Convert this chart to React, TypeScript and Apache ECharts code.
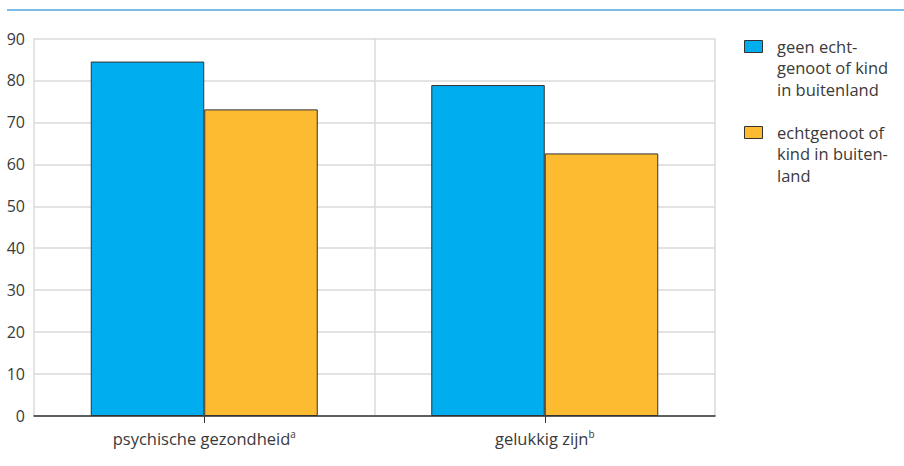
import React, { useEffect, useRef } from "react";
import * as echarts from "echarts";

const categories = ["psychische gezondheid", "gelukkig zijn"];
const superscripts = ["a", "b"];
const seriesNames = ["geen echtgenoot of kind in buitenland", "echtgenoot of kind in buitenland"];
const legendLines = [
  ["geen echt-", "genoot of kind", "in buitenland"],
  ["echtgenoot of", "kind in buiten-", "land"],
];
const valuesGeen = [84.5, 78.9];
const valuesMet = [73.1, 62.6];
const yTicks = { min: 0, max: 90, interval: 10 };

const colors = ["#00adef", "#fcbb30"];
const FONT = "Open Sans";

export default function App() {
  const ref = useRef<HTMLDivElement>(null);
  useEffect(() => {
    const chart = echarts.init(ref.current!, undefined, { renderer: "svg" });
    const legendGraphics: any[] = [];
    legendLines.forEach((lines, i) => {
      const top = i === 0 ? 40 : 126;
      legendGraphics.push({
        type: "rect",
        shape: { x: 744.5, y: top + 0.5, width: 18, height: 12 },
        style: { fill: colors[i], stroke: "#333", lineWidth: 1 },
      });
      legendGraphics.push({
        type: "text",
        x: 777,
        y: top - 4.5,
        style: {
          text: lines.join("\n"),
          fontFamily: FONT,
          fontSize: 16.5,
          lineHeight: 21.5,
          fill: "#3a3a3a",
          verticalAlign: "top",
        },
      });
    });
    chart.setOption({
      animation: false,
      textStyle: { fontFamily: FONT },
      grid: { left: 34, right: 189, top: 38.5, bottom: 50 },
      xAxis: {
        type: "category",
        data: categories,
        axisLine: { show: true, lineStyle: { color: "#333", width: 1.5 } },
        axisTick: { show: true, alignWithLabel: true, length: 7, lineStyle: { color: "#333", width: 1 } },
        splitLine: { show: true, lineStyle: { color: "#dadada", width: 1.5 } },
        axisLabel: {
          margin: 13,
          color: "#3a3a3a",
          fontSize: 16.5,
          fontFamily: FONT,
          formatter: (v: string, idx: number) => `${v}{sup|${superscripts[idx]}}`,
          rich: {
            sup: { fontSize: 10, verticalAlign: "top", padding: [0, 0, 8, 0], color: "#3a3a3a", fontFamily: FONT },
          },
        },
      },
      yAxis: {
        type: "value",
        min: yTicks.min,
        max: yTicks.max,
        interval: yTicks.interval,
        axisLine: { show: false },
        axisTick: { show: false },
        splitLine: { show: true, lineStyle: { color: "#dadada", width: 1.5 } },
        axisLabel: { color: "#3a3a3a", fontSize: 16, margin: 9, fontFamily: FONT },
      },
      series: [
        {
          name: seriesNames[0],
          type: "bar",
          data: valuesGeen,
          barWidth: 113.5,
          barGap: "0%",
          itemStyle: { color: colors[0], borderColor: "#333", borderWidth: 1 },
        },
        {
          name: seriesNames[1],
          type: "bar",
          data: valuesMet,
          barWidth: 113.5,
          barGap: "0%",
          itemStyle: { color: colors[1], borderColor: "#333", borderWidth: 1 },
        },
      ],
      graphic: [
        {
          type: "line",
          shape: { x1: 7, y1: 10, x2: 904, y2: 10 },
          style: { stroke: "#4da6dc", lineWidth: 1.5 },
        },
        ...legendGraphics,
      ],
    });
    return () => chart.dispose();
  }, []);
  return (
    <div
      ref={ref}
      style={{ position: "fixed", left: 0, top: 0, width: 904, height: 466, background: "#fff" }}
    />
  );
}
